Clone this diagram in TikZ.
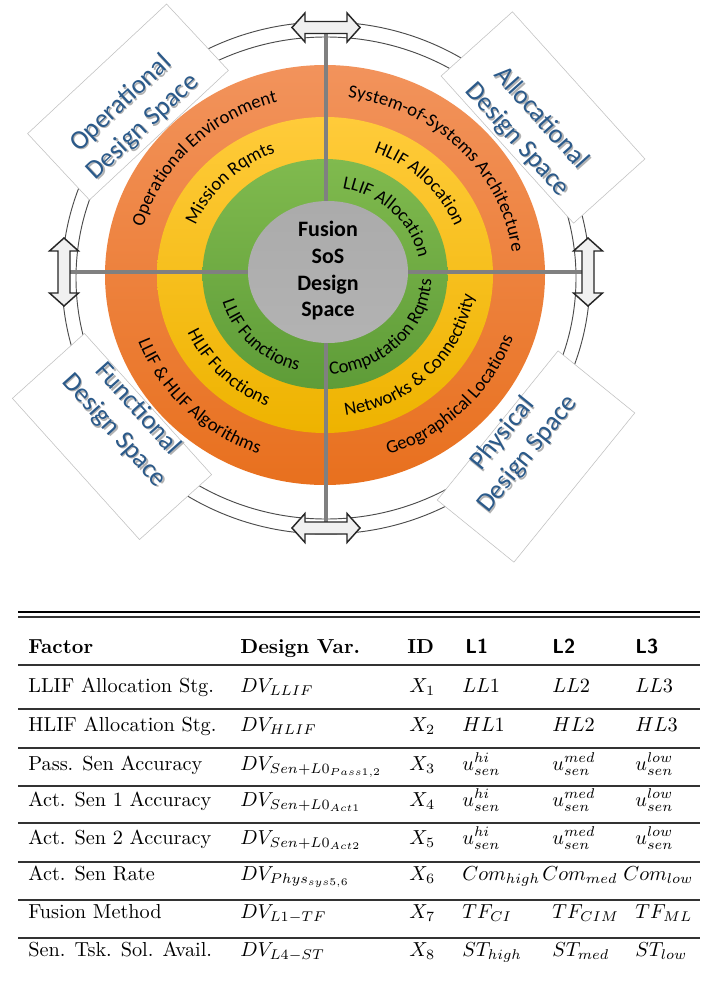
\documentclass[tikz,border=0pt]{standalone}
\usepackage{fontspec}
\newfontfamily\calib{Carlito}
\usetikzlibrary{decorations.text}

\definecolor{orgTop}{HTML}{F2935C}
\definecolor{orgBot}{HTML}{E8701E}
\definecolor{yelTop}{HTML}{FFCB3A}
\definecolor{yelBot}{HTML}{EEB300}
\definecolor{grnTop}{HTML}{80BA4E}
\definecolor{grnBot}{HTML}{5E9C38}
\definecolor{spaceblue}{HTML}{2B5A8A}
\definecolor{axisgray}{HTML}{808080}
\definecolor{arrowfill}{HTML}{F0F0F0}

\newcommand\ringfont{\calib\fontsize{14}{16}\selectfont}

\tikzset{
  ringline/.style={draw=black!70, line width=0.7pt},
  spacebox/.style={draw=black!25, fill=white, line width=0.4pt, inner sep=0pt},
  spacetext/.style={font=\calib\fontsize{20}{24}\selectfont, text=spaceblue, align=center, inner sep=0pt},
  spaceshadow/.style={spacetext, text=black!30},
  axisline/.style={draw=axisgray, line width=3pt},
  ringtext/.style={decorate, decoration={text along path, text align=center, text={|\ringfont|#1}}},
  arrowstyle/.style={fill=arrowfill, draw=black!85, line width=1.1pt, line join=miter},
  dblarrow/.pic={
    \draw[arrowstyle] (-34,0) -- (-21,14.5) -- (-21,6) -- (21,6) -- (21,14.5) -- (34,0)
      -- (21,-14.5) -- (21,-6) -- (-21,-6) -- (-21,-14.5) -- cycle;
  },
  tab/.style={font=\normalsize, scale=1.52, inner sep=0pt, anchor=base west},
  toprule/.style={draw=black, line width=1.8pt},
  thinrule/.style={draw=black!80, line width=0.8pt},
}

% one row of the factor table: name, baseline, six cells
\newcommand\factorrow[8]{%
  \node[tab] (f#1) at (28,-#2) {#3};
  \node[tab] (v#1) at (240,-#2) {#4};
  \node[tab] (i#1) at (409,-#2) {#5};
  \node[tab] (a#1) at (462,-#2) {#6};
  \node[tab] (b#1) at (552,-#2) {#7};
  \node[tab] (c#1) at (635,-#2) {#8};}

\begin{document}
\begin{tikzpicture}[x=0.75pt, y=0.75pt]
\useasboundingbox (0,0) rectangle (700,-981);
\fill[white] (0,0) rectangle (700,-981);

% outer double ring
\draw[ringline] (326,-278) ellipse [x radius=264, y radius=256];
\draw[ringline] (326,-278) ellipse [x radius=250, y radius=241];

% design space boxes
\node[spacebox, minimum width=142.5pt, minimum height=68pt, rotate=43] (boxOp) at (128,-102) {};
\node[spacebox, minimum width=148.5pt, minimum height=72pt, rotate=-48] (boxAl) at (543,-117.5) {};
\node[spacebox, minimum width=142.5pt, minimum height=72.75pt, rotate=-48] (boxFn) at (112,-436.5) {};
\node[spacebox, minimum width=144pt, minimum height=74pt, rotate=51] (boxPh) at (536,-456.5) {};

% coloured layers
\shade[top color=orgTop, bottom color=orgBot] (325,-275) ellipse [x radius=220, y radius=210];
\shade[top color=yelTop, bottom color=yelBot] (325,-275) ellipse [x radius=168, y radius=158];
\shade[top color=grnTop, bottom color=grnBot] (325,-274) ellipse [x radius=122.5, y radius=115];

% axes ending at the arrows
\coordinate (arrT) at (326,-27.5);
\coordinate (arrB) at (326,-528);
\coordinate (arrL) at (64,-272);
\coordinate (arrR) at (588,-272);
\draw[axisline] (arrT) -- (arrB);
\draw[axisline] (arrL) -- (arrR);

% layer labels
\begin{scope}[shift={(325,-275)}]
  % top-left quadrant
  \path[ringtext={Operational Environment}] (180:188.5 and 178.5) arc[start angle=180, end angle=90, x radius=188.5, y radius=178.5];
  \path[ringtext={Mission Rqmts}] (180:139.5 and 131) arc[start angle=180, end angle=90, x radius=139.5, y radius=131];
  % top-right quadrant
  \path[ringtext={System-of-Systems Architecture}] (90:188.5 and 178.5) arc[start angle=90, end angle=0, x radius=188.5, y radius=178.5];
  \path[ringtext={HLIF Allocation}] (90:139.5 and 131) arc[start angle=90, end angle=0, x radius=139.5, y radius=131];
  \path[ringtext={LLIF Allocation}] (90:95.5 and 88) arc[start angle=90, end angle=0, x radius=95.5, y radius=88];
  % bottom-right quadrant
  \path[ringtext={Geographical Locations}] (270:199.5 and 189.5) arc[start angle=270, end angle=360, x radius=199.5, y radius=189.5];
  \path[ringtext={Networks {\&} Connectivity}] (270:150.5 and 142) arc[start angle=270, end angle=360, x radius=150.5, y radius=142];
  \path[ringtext={Computation Rqmts}] (270:106.5 and 99) arc[start angle=270, end angle=360, x radius=106.5, y radius=99];
  % bottom-left quadrant
  \path[ringtext={LLIF {\&} HLIF Algorithms}] (180:199.5 and 189.5) arc[start angle=180, end angle=270, x radius=199.5, y radius=189.5];
  \path[ringtext={HLIF Functions}] (180:150.5 and 142) arc[start angle=180, end angle=270, x radius=150.5, y radius=142];
  \path[ringtext={LLIF Functions}] (180:106.5 and 99) arc[start angle=180, end angle=270, x radius=106.5, y radius=99];
\end{scope}

% core
\shade[top color=black!33, middle color=black!21, bottom color=black!30] (328,-272) ellipse [x radius=80, y radius=71];
\node[font=\calib\bfseries\fontsize{16.5}{20}\selectfont, align=center, inner sep=0pt] (core) at (328,-271) {Fusion\\SoS\\Design\\Space};

% double-headed arrows
\pic at (arrT) {dblarrow};
\pic at (arrB) {dblarrow};
\pic[rotate=90] at (arrL) {dblarrow};
\pic[rotate=90] at (arrR) {dblarrow};

% design space titles
\node[spaceshadow, rotate=43] (shOp) at (133.5,-116.5) {Operational\\Design Space};
\node[spacetext, rotate=43] (txtOp) at (132,-115) {Operational\\Design Space};
\node[spaceshadow, rotate=-48] (shAl) at (530.5,-130.5) {Allocational\\Design Space};
\node[spacetext, rotate=-48] (txtAl) at (529,-129) {Allocational\\Design Space};
\node[spaceshadow, rotate=-48] (shFn) at (127.5,-421.5) {Functional\\Design Space};
\node[spacetext, rotate=-48] (txtFn) at (126,-420) {Functional\\Design Space};
\node[spaceshadow, rotate=51] (shPh) at (516.5,-445.5) {Physical\\Design Space};
\node[spacetext, rotate=51] (txtPh) at (515,-444) {Physical\\Design Space};

% factor table rules
\draw[toprule] (18,-612) -- (700,-612);
\draw[thinrule] (18,-617) -- (700,-617);
\foreach \ry in {665,709,748,786,823,862,900,938}
  \draw[thinrule] (18,-\ry) -- (700,-\ry);

% header
\node[tab] (hFactor) at (28,-653) {\bfseries Factor};
\node[tab] (hVar) at (240,-653) {\bfseries Design Var.};
\node[tab] (hID) at (407,-653) {\bfseries ID};
\node[tab] (hL1) at (465,-653) {\sffamily\bfseries L1};
\node[tab] (hL2) at (552,-653) {\sffamily\bfseries L2};
\node[tab] (hL3) at (635,-653) {\sffamily\bfseries L3};

% rows
\factorrow{1}{692}{LLIF Allocation Stg.}{$DV_{LLIF}$}{$X_1$}{$LL1$}{$LL2$}{$LL3$}
\factorrow{2}{731}{HLIF Allocation Stg.}{$DV_{HLIF}$}{$X_2$}{$HL1$}{$HL2$}{$HL3$}
\factorrow{3}{770}{Pass. Sen Accuracy}{$DV_{Sen+L0_{Pass1,2}}$}{$X_3$}{$u_{sen}^{hi}$}{$u_{sen}^{med}$}{$u_{sen}^{low}$}
\factorrow{4}{806}{Act. Sen 1 Accuracy}{$DV_{Sen+L0_{Act1}}$}{$X_4$}{$u_{sen}^{hi}$}{$u_{sen}^{med}$}{$u_{sen}^{low}$}
\factorrow{5}{844}{Act. Sen 2 Accuracy}{$DV_{Sen+L0_{Act2}}$}{$X_5$}{$u_{sen}^{hi}$}{$u_{sen}^{med}$}{$u_{sen}^{low}$}
\node[tab] (f6) at (28,-880) {Act. Sen Rate};
\node[tab] (v6) at (240,-880) {$DV_{Phys_{sys5,6}}$};
\node[tab] (i6) at (409,-880) {$X_6$};
\node[tab] (a6) at (462,-880) {$Com_{high}$};
\node[tab] (b6) at (542,-880) {$Com_{med}$};
\node[tab] (c6) at (623,-880) {$Com_{low}$};
\factorrow{7}{918}{Fusion Method}{$DV_{L1-TF}$}{$X_7$}{$TF_{CI}$}{$TF_{CIM}$}{$TF_{ML}$}
\factorrow{8}{956}{Sen. Tsk. Sol. Avail.}{$DV_{L4-ST}$}{$X_8$}{$ST_{high}$}{$ST_{med}$}{$ST_{low}$}
\end{tikzpicture}
\end{document}
